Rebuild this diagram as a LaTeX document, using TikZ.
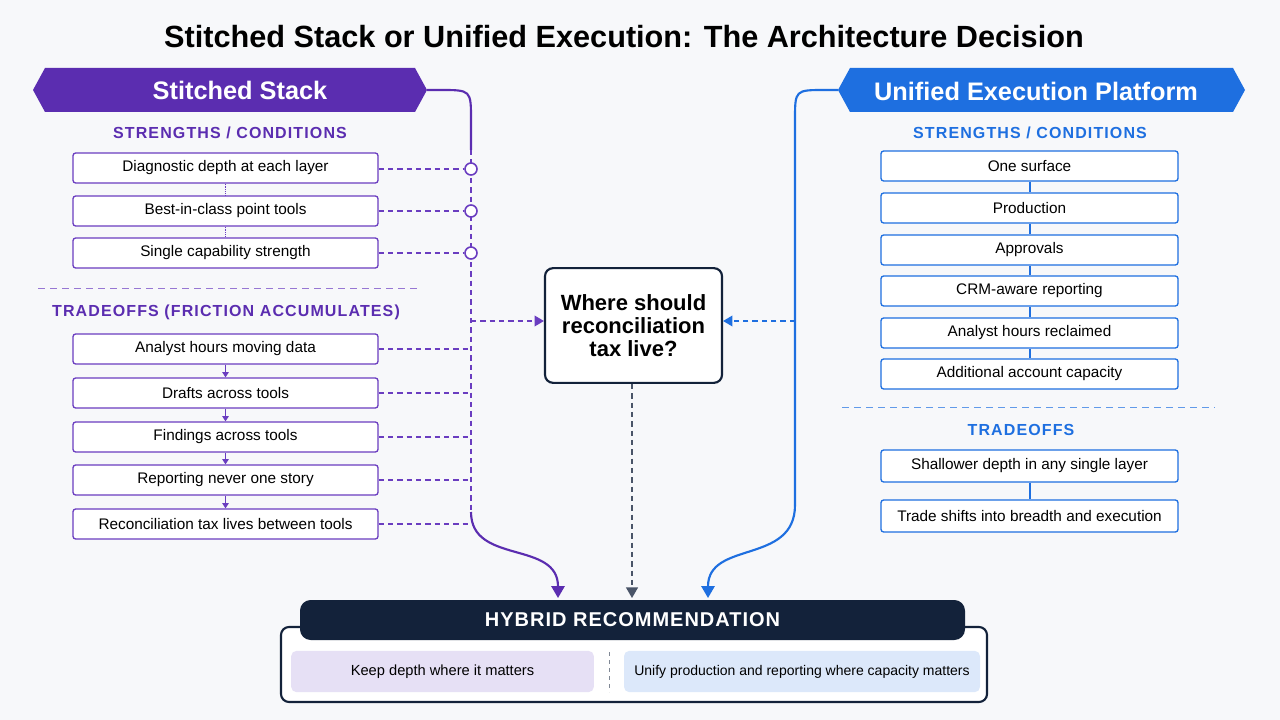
\documentclass[tikz,border=0pt]{standalone}
\usepackage{fontspec}
\setmainfont{Liberation Sans}
\usetikzlibrary{arrows.meta}
\definecolor{pur}{HTML}{5B2DB0}
\definecolor{purl}{HTML}{6A3DC0}
\definecolor{blu}{HTML}{1E6FE0}
\definecolor{navy}{HTML}{13223A}
\definecolor{bg}{HTML}{F7F8FA}
\definecolor{lpur}{HTML}{E6E0F5}
\definecolor{lblu}{HTML}{DCE8FA}
\definecolor{gry}{HTML}{4A5568}
\begin{document}
\begin{tikzpicture}[x=0.75pt,y=-0.75pt,
  lbox/.style={draw=purl,line width=1pt,rounded corners=2pt,fill=white,minimum width=228.75pt,minimum height=22.5pt,font=\fontsize{11.5}{13}\selectfont,inner sep=0pt},
  rbox/.style={draw=blu,line width=1pt,rounded corners=2pt,fill=white,minimum width=222.75pt,minimum height=22.5pt,font=\fontsize{11.5}{13}\selectfont,inner sep=0pt},
  hdr/.style={font=\fontsize{12}{13}\bfseries\addfontfeatures{LetterSpace=7}\selectfont},
  pdash/.style={draw=purl,line width=1pt,dash pattern=on 4pt off 3pt},
  bdash/.style={draw=blu,line width=1pt,dash pattern=on 4pt off 3pt},
  circ/.style={circle,draw=purl,line width=1.2pt,fill=white,minimum size=9pt,inner sep=0pt}]
\fill[bg] (0,0) rectangle (1280,720);
\useasboundingbox (0,0) rectangle (1280,720);
\node[font=\fontsize{23}{26}\bfseries\selectfont] (title) at (624,37) {Stitched Stack or Unified Execution: The Architecture Decision};
% left banner
\fill[pur] (33,90) -- (45,68) -- (415,68) -- (427,90) -- (415,112) -- (45,112) -- cycle;
\node[text=white,font=\fontsize{19}{22}\bfseries\selectfont] (lban) at (240,90) {Stitched Stack};
\coordinate (lb) at (427,90);
% right banner
\fill[blu] (838,90) -- (850,68) -- (1233,68) -- (1245,90) -- (1233,112) -- (850,112) -- cycle;
\node[text=white,font=\fontsize{19}{22}\bfseries\selectfont] (rban) at (1036,91) {Unified Execution Platform};
\coordinate (rb) at (838,90);
\node[hdr,text=pur] (lh1) at (230,133) {STRENGTHS / CONDITIONS};
\node[hdr,text=blu] (rh1) at (1030,133) {STRENGTHS / CONDITIONS};
% left strengths
\node[lbox] (s1) at (225.5,168) {Diagnostic depth at each layer};
\node[lbox] (s2) at (225.5,211) {Best-in-class point tools};
\node[lbox] (s3) at (225.5,253) {Single capability strength};
\draw[purl,densely dotted] (s1.south) -- (s2.north) (s2.south) -- (s3.north);
% spine left
\coordinate (lt) at (471,150);
\coordinate (lbot) at (471,512);
\draw[pur,line width=1.6pt] (lb) -- (440,90) .. controls (471,90) .. (471,120) -- (lt);
\draw[pdash] (lt) -- (lbot);
\node[circ] (c1) at (471,169) {};
\node[circ] (c2) at (471,211) {};
\node[circ] (c3) at (471,253) {};
\draw[pdash] (s1.east |- c1) -- (c1.west);
\draw[pdash] (s2.east |- c2) -- (c2.west);
\draw[pdash] (s3.east |- c3) -- (c3.west);
\draw[purl!70,dash pattern=on 5pt off 4pt] (38,288) -- (420,288);
\node[hdr,text=pur] (lh2) at (226,312) {TRADEOFFS (FRICTION ACCUMULATES)};
\node[lbox] (t1) at (225.5,349) {Analyst hours moving data};
\node[lbox] (t2) at (225.5,393) {Drafts across tools};
\node[lbox] (t3) at (225.5,437) {Findings across tools};
\node[lbox] (t4) at (225.5,480) {Reporting never one story};
\node[lbox] (t5) at (225.5,524) {Reconciliation tax lives between tools};
\foreach \a/\b in {t1/t2,t2/t3,t3/t4,t4/t5}
  \draw[purl,line width=0.8pt,-{Triangle[length=4pt,width=5pt]}] (\a.south) -- (\b.north);
\foreach \t in {t1,t2,t3,t4,t5}
  \draw[pdash] (\t.east) -- (\t.east -| lt);
% center
\node[draw=navy,line width=1.6pt,rounded corners=6pt,fill=white,minimum width=132.75pt,minimum height=86pt,align=center,font=\fontsize{16.5}{17.5}\bfseries\selectfont] (q) at (633.5,325.5) {Where should\\reconciliation\\tax live?};
\coordinate (lm) at (471,321);
\coordinate (rm) at (795,321);
\draw[pdash,-{Triangle[length=7pt,width=8pt]}] (lm) -- (lm -| q.west);
\draw[bdash,-{Triangle[length=7pt,width=8pt]}] (rm) -- (rm -| q.east);
% right
\coordinate (rbot) at (795,505);
\draw[blu,line width=1.6pt] (rb) -- (825,90) .. controls (795,90) .. (795,120) -- (rbot);
\node[rbox] (u1) at (1029.5,166) {One surface};
\node[rbox] (u2) at (1029.5,208) {Production};
\node[rbox] (u3) at (1029.5,250) {Approvals};
\node[rbox] (u4) at (1029.5,291) {CRM-aware reporting};
\node[rbox] (u5) at (1029.5,333) {Analyst hours reclaimed};
\node[rbox] (u6) at (1029.5,374) {Additional account capacity};
\foreach \a/\b in {u1/u2,u2/u3,u3/u4,u4/u5,u5/u6}
  \draw[blu,line width=1.5pt] (\a.south) -- (\b.north);
\draw[blu!70,dash pattern=on 5pt off 4pt] (842,407) -- (1215,407);
\node[hdr,text=blu] (rh2) at (1021,430) {TRADEOFFS};
\node[rbox,minimum height=24pt] (v1) at (1029.5,466) {Shallower depth in any single layer};
\node[rbox,minimum height=24pt] (v2) at (1029.5,516) {Trade shifts into breadth and execution};
\draw[blu,line width=1.5pt] (v1.south) -- (v2.north);
% bottom
\draw[navy,line width=1.6pt,rounded corners=6pt,fill=white] (281,627) rectangle (987,702);
\node[fill=navy,rounded corners=8pt,minimum width=498.75pt,minimum height=30pt,text=white,font=\fontsize{15}{17}\bfseries\addfontfeatures{LetterSpace=5}\selectfont] (hyb) at (632.5,620) {HYBRID RECOMMENDATION};
\node[fill=lpur,rounded corners=4pt,minimum width=227pt,minimum height=31pt,inner sep=0pt,font=\fontsize{11}{13}\selectfont] (k1) at (442.5,671.5) {Keep depth where it matters};
\node[fill=lblu,rounded corners=4pt,minimum width=267pt,minimum height=31pt,inner sep=0pt,font=\fontsize{10.5}{13}\selectfont] (k2) at (802,671.5) {Unify production and reporting where capacity matters};
\draw[gry!70,dash pattern=on 3pt off 3pt] (609,652) -- (609,692);
\coordinate (pa) at (558,598);
\coordinate (ba) at (708,598);
\draw[pur,line width=1.6pt,-{Triangle[length=9pt,width=10pt]}] (lbot) .. controls (471,565) and (558,540) .. (pa);
\draw[blu,line width=1.6pt,-{Triangle[length=9pt,width=10pt]}] (rbot) .. controls (795,565) and (708,540) .. (ba);
\draw[gry,line width=1pt,dash pattern=on 4pt off 3pt,-{Triangle[length=8pt,width=9pt]}] (q.south -| 632,0) -- (632,598);
\end{tikzpicture}
\end{document}
